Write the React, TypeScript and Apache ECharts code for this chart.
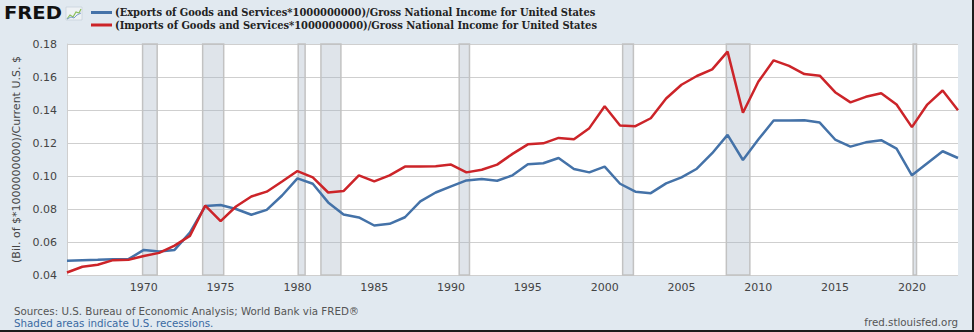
import React, { useEffect, useRef } from "react";
import * as echarts from "echarts";

const years = [
  1965, 1966, 1967, 1968, 1969, 1970, 1971, 1972, 1973, 1974, 1975, 1976, 1977, 1978, 1979,
  1980, 1981, 1982, 1983, 1984, 1985, 1986, 1987, 1988, 1989, 1990, 1991, 1992, 1993, 1994,
  1995, 1996, 1997, 1998, 1999, 2000, 2001, 2002, 2003, 2004, 2005, 2006, 2007, 2008, 2009,
  2010, 2011, 2012, 2013, 2014, 2015, 2016, 2017, 2018, 2019, 2020, 2021, 2022, 2023,
];

const exportsRatio = [
  0.0487, 0.049, 0.0492, 0.0495, 0.0496, 0.0552, 0.0542, 0.0552, 0.0657, 0.0818, 0.0824, 0.08, 0.0765, 0.0795, 0.0882,
  0.0986, 0.0953, 0.084, 0.0767, 0.0749, 0.07, 0.071, 0.075, 0.0846, 0.09, 0.0937, 0.0973, 0.0982, 0.0971, 0.1004,
  0.1071, 0.1077, 0.1109, 0.1042, 0.1022, 0.1057, 0.0953, 0.0905, 0.0896, 0.0955, 0.0992, 0.1044, 0.1138, 0.1249, 0.1097,
  0.1221, 0.1336, 0.1336, 0.1338, 0.1324, 0.1221, 0.1178, 0.1204, 0.1217, 0.1166, 0.1004, 0.1077, 0.115, 0.1109,
];

const importsRatio = [
  0.0415, 0.045, 0.0462, 0.049, 0.0492, 0.0515, 0.0534, 0.0578, 0.0637, 0.0821, 0.0726, 0.0815, 0.0876, 0.0905, 0.0967,
  0.103, 0.0992, 0.09, 0.0909, 0.1004, 0.0967, 0.1004, 0.1057, 0.1057, 0.1059, 0.1069, 0.1022, 0.1038, 0.1069, 0.1134,
  0.1192, 0.1198, 0.1231, 0.1223, 0.129, 0.1423, 0.1306, 0.1302, 0.135, 0.147, 0.1553, 0.1606, 0.1646, 0.1754, 0.1383,
  0.1571, 0.1701, 0.1667, 0.1618, 0.1608, 0.1508, 0.1446, 0.148, 0.1502, 0.1433, 0.1296, 0.1433, 0.1518, 0.1399,
];

const recessionStart = [1969.92, 1973.83, 1980.05, 1981.53, 1990.53, 2001.17, 2007.92, 2020.08];
const recessionEnd = [1970.87, 1975.2, 1980.5, 1982.83, 1991.2, 2001.87, 2009.45, 2020.3];

const seriesNames = [
  "(Exports of Goods and Services*1000000000)/Gross National Income for United States",
  "(Imports of Goods and Services*1000000000)/Gross National Income for United States",
];
const yAxisTitle = "(Bil. of $*1000000000)/Current U.S. $";
const sourceText = "Sources: U.S. Bureau of Economic Analysis; World Bank via FRED®";
const recessionNote = "Shaded areas indicate U.S. recessions.";
const siteText = "fred.stlouisfed.org";

export default function App() {
  const ref = useRef<HTMLDivElement>(null);
  useEffect(() => {
    document.body.style.margin = "0";
    const chart = echarts.init(ref.current!, null, { renderer: "svg" });
    const exportsData = years.map((y, i) => [y, exportsRatio[i]]);
    const importsData = years.map((y, i) => [y, importsRatio[i]]);
    const recessions = recessionStart.map((s, i) => [{ xAxis: s }, { xAxis: recessionEnd[i] }]);
    const axisFont = '"DejaVu Sans", sans-serif';
    chart.setOption({
      animation: false,
      backgroundColor: "#e1e9f0",
      grid: { show: true, backgroundColor: "#ffffff", borderWidth: 0, left: 67, right: 16, top: 44, bottom: 57 },
      legend: {
        orient: "vertical",
        left: 86,
        top: 2,
        itemWidth: 21,
        itemHeight: 3,
        itemGap: 1.5,
        icon: "rect",
        selectedMode: false,
        data: seriesNames,
        textStyle: {
          fontFamily: '"DejaVu Serif Condensed", "DejaVu Serif", serif',
          fontWeight: "bold",
          fontSize: 11,
          color: "#222",
          padding: [0, 0, 0, -2],
        },
      },
      xAxis: {
        type: "value",
        min: 1965,
        max: 2023,
        interval: 5,
        axisLine: { show: false },
        axisTick: { show: false },
        splitLine: { show: false },
        axisLabel: {
          showMinLabel: false,
          showMaxLabel: false,
          margin: 7,
          color: "#444",
          fontSize: 11,
          fontFamily: axisFont,
          formatter: (v: number) => (v === 1965 ? "" : String(v)),
        },
      },
      yAxis: {
        type: "value",
        min: 0.04,
        max: 0.18,
        interval: 0.02,
        name: yAxisTitle,
        nameLocation: "middle",
        nameGap: 45,
        nameTextStyle: { color: "#444", fontSize: 11, fontFamily: axisFont },
        axisLine: { show: true, lineStyle: { color: "#cfcfcf", width: 1 } },
        axisTick: { show: false },
        splitLine: { show: true, lineStyle: { color: "#cfcfcf", width: 1.2 } },
        axisLabel: {
          margin: 10,
          color: "#444",
          fontSize: 11,
          fontFamily: axisFont,
          formatter: (v: number) => v.toFixed(2),
        },
      },
      series: [
        {
          name: seriesNames[0],
          type: "line",
          data: exportsData,
          showSymbol: false,
          symbol: "none",
          color: "#4472a8",
          lineStyle: { width: 2.5, color: "#4472a8" },
          z: 3,
          markArea: {
            silent: true,
            label: { show: false },
            itemStyle: {
              color: "rgba(166,181,198,0.36)",
              borderColor: "#c2c2c2",
              borderWidth: 1.5,
            },
            data: recessions,
          },
        },
        {
          name: seriesNames[1],
          type: "line",
          data: importsData,
          showSymbol: false,
          symbol: "none",
          color: "#cc2429",
          lineStyle: { width: 2.5, color: "#cc2429" },
          z: 4,
        },
      ],
      graphic: [
        {
          type: "text",
          x: 4,
          y: 4,
          scaleX: 1.15,
          style: {
            text: "FRED",
            font: 'bold 17px "DejaVu Sans", sans-serif',
            fill: "#111",
            verticalAlign: "top",
          },
        },
        {
          type: "group",
          x: 66,
          y: 7,
          children: [
            { type: "rect", shape: { x: 0, y: 0, width: 16, height: 13 }, style: { fill: "#eef2f5", stroke: "#c8d2dc", lineWidth: 0.8 } },
            { type: "polyline", shape: { points: [[1, 12], [4, 8], [7, 10], [10, 5], [13, 6], [15, 2]] }, style: { stroke: "#8bbf5a", lineWidth: 1.2, fill: null } },
            { type: "polyline", shape: { points: [[1, 12], [5, 10], [8, 11], [11, 8], [15, 6]] }, style: { stroke: "#7c9ccc", lineWidth: 1, fill: null } },
          ],
        },
        {
          type: "text",
          x: 14,
          y: 311,
          style: { text: sourceText, font: '10.3px "DejaVu Sans", sans-serif', fill: "#555", verticalAlign: "middle" },
        },
        {
          type: "text",
          x: 14,
          y: 322.5,
          style: { text: recessionNote, font: '10.3px "DejaVu Sans", sans-serif', fill: "#3a6aa2", verticalAlign: "middle" },
        },
        {
          type: "text",
          x: 958,
          y: 322,
          style: { text: siteText, font: '10.3px "DejaVu Sans", sans-serif', fill: "#555", align: "right", verticalAlign: "middle" },
        },
        { type: "rect", shape: { x: 972, y: 0, width: 2, height: 332 }, style: { fill: "#1d1d1d" } },
        { type: "rect", shape: { x: 0, y: 330, width: 974, height: 2 }, style: { fill: "#1d1d1d" } },
      ],
    });
    return () => chart.dispose();
  }, []);
  return <div ref={ref} style={{ position: "absolute", left: 0, top: 0, width: 974, height: 332 }} />;
}
